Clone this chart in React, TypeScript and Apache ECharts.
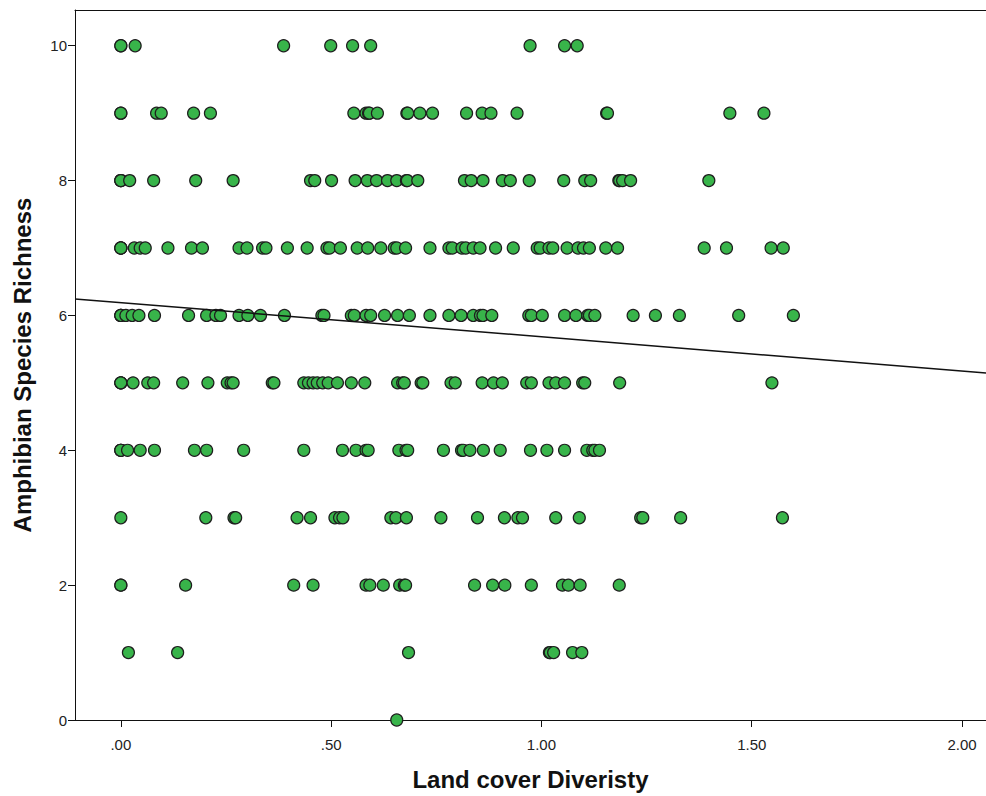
import React, { useEffect, useRef } from "react";
import * as echarts from "echarts";

// Land cover diversity values grouped by amphibian species richness
const richness10 = [0, 0, 0.034, 0.387, 0.499, 0.551, 0.594, 0.973, 1.055, 1.085];
const richness9 = [0, 0, 0.085, 0.096, 0.173, 0.213, 0.554, 0.583, 0.589, 0.591, 0.61, 0.68, 0.682, 0.711, 0.741, 0.822, 0.859, 0.88, 0.942, 1.155, 1.157, 1.448, 1.529];
const richness8 = [0, 0, 0, 0.021, 0.078, 0.178, 0.267, 0.451, 0.461, 0.501, 0.557, 0.586, 0.608, 0.634, 0.656, 0.679, 0.681, 0.706, 0.817, 0.833, 0.861, 0.907, 0.926, 0.971, 1.053, 1.103, 1.117, 1.184, 1.186, 1.193, 1.212, 1.398];
const richness7 = [0, 0, 0, 0.032, 0.046, 0.058, 0.112, 0.168, 0.194, 0.281, 0.3, 0.337, 0.345, 0.396, 0.443, 0.49, 0.496, 0.522, 0.562, 0.587, 0.618, 0.65, 0.656, 0.677, 0.735, 0.78, 0.788, 0.811, 0.82, 0.838, 0.854, 0.891, 0.933, 0.99, 0.997, 1.018, 1.027, 1.061, 1.087, 1.1, 1.114, 1.153, 1.181, 1.387, 1.44, 1.546, 1.575];
const richness6 = [0, 0, 0, 0.012, 0.027, 0.043, 0.08, 0.161, 0.204, 0.226, 0.237, 0.281, 0.302, 0.332, 0.389, 0.478, 0.483, 0.548, 0.555, 0.583, 0.594, 0.627, 0.658, 0.686, 0.735, 0.78, 0.809, 0.838, 0.855, 0.861, 0.882, 0.97, 0.976, 1.002, 1.055, 1.082, 1.11, 1.114, 1.127, 1.218, 1.271, 1.328, 1.469, 1.599];
const richness5 = [0, 0, 0, 0.029, 0.064, 0.078, 0.147, 0.207, 0.253, 0.262, 0.267, 0.36, 0.364, 0.435, 0.446, 0.457, 0.467, 0.48, 0.493, 0.515, 0.548, 0.58, 0.658, 0.67, 0.674, 0.714, 0.718, 0.785, 0.795, 0.859, 0.886, 0.907, 0.965, 0.976, 1.018, 1.034, 1.055, 1.098, 1.103, 1.186, 1.548];
const richness4 = [0, 0, 0, 0.016, 0.046, 0.08, 0.175, 0.204, 0.292, 0.435, 0.527, 0.559, 0.583, 0.588, 0.661, 0.678, 0.682, 0.767, 0.81, 0.814, 0.83, 0.862, 0.902, 0.974, 1.013, 1.055, 1.108, 1.122, 1.127, 1.138];
const richness3 = [0, 0.202, 0.269, 0.273, 0.419, 0.451, 0.509, 0.52, 0.528, 0.642, 0.654, 0.679, 0.761, 0.848, 0.912, 0.944, 0.955, 1.034, 1.09, 1.236, 1.241, 1.331, 1.573];
const richness2 = [0, 0, 0.154, 0.411, 0.457, 0.583, 0.592, 0.624, 0.663, 0.674, 0.677, 0.841, 0.884, 0.913, 0.976, 1.05, 1.064, 1.092, 1.185];
const richness1 = [0.018, 0.135, 0.684, 1.019, 1.021, 1.029, 1.074, 1.096];
const richness0 = [0.656];

const groups: [number, number[]][] = [
  [10, richness10], [9, richness9], [8, richness8], [7, richness7], [6, richness6],
  [5, richness5], [4, richness4], [3, richness3], [2, richness2], [1, richness1], [0, richness0],
];

const xTicks = [0, 0.5, 1, 1.5, 2];
const yTicks = [0, 2, 4, 6, 8, 10];
const xMin = -0.109;
const xMax = 2.057;
const yMax = 10.53;

// Linear fit line
const fitIntercept = 6.19;
const fitSlope = -0.507;

export default function App() {
  const ref = useRef<HTMLDivElement>(null);
  useEffect(() => {
    if (!ref.current) return;
    const chart = echarts.init(ref.current, null, { renderer: "svg" });
    const points: number[][] = [];
    groups.forEach(([y, xs]) => xs.forEach((x) => points.push([x, y])));
    const font = "'Liberation Sans', Arial, sans-serif";
    chart.setOption({
      animation: false,
      backgroundColor: "#ffffff",
      grid: { left: 75, top: 10, right: 0, bottom: 76, containLabel: false },
      xAxis: [
        {
          type: "value",
          min: xMin,
          max: xMax,
          name: "Land cover Diveristy",
          nameLocation: "middle",
          nameGap: 47,
          nameTextStyle: { fontFamily: font, fontWeight: "bold", fontSize: 24, color: "#111" },
          axisLine: { show: true, onZero: false, lineStyle: { color: "#111", width: 1 } },
          axisTick: { show: true, customValues: xTicks, length: 7, inside: false, lineStyle: { color: "#111" } },
          axisLabel: {
            customValues: xTicks,
            margin: 17,
            fontFamily: font,
            fontSize: 15,
            color: "#222",
            formatter: (v: number) => v.toFixed(2).replace(/^0/, ""),
          },
          splitLine: { show: false },
        },
        {
          type: "value",
          position: "top",
          min: xMin,
          max: xMax,
          axisLine: { show: true, onZero: false, lineStyle: { color: "#111", width: 1 } },
          axisTick: { show: false },
          axisLabel: { show: false },
          splitLine: { show: false },
        },
      ],
      yAxis: {
        type: "value",
        min: 0,
        max: yMax,
        name: "Amphibian Species Richness",
        nameLocation: "middle",
        nameGap: 41,
        nameTextStyle: { fontFamily: font, fontWeight: "bold", fontSize: 24, color: "#111" },
        axisLine: { show: true, onZero: false, lineStyle: { color: "#111", width: 1 } },
        axisTick: { show: true, customValues: yTicks, length: 7, lineStyle: { color: "#111" } },
        axisLabel: { customValues: yTicks, margin: 8, fontFamily: font, fontSize: 15, color: "#222" },
        splitLine: { show: false },
      },
      series: [
        {
          type: "line",
          data: [
            [xMin, fitIntercept + fitSlope * xMin],
            [xMax, fitIntercept + fitSlope * xMax],
          ],
          showSymbol: false,
          symbol: "none",
          lineStyle: { color: "#111", width: 1.5 },
          silent: true,
          z: 3,
        },
        {
          type: "scatter",
          data: points,
          symbol: "circle",
          symbolSize: 12,
          itemStyle: { color: "#38b44a", borderColor: "#1e1e1e", borderWidth: 1.2, opacity: 1 },
          z: 2,
        },
      ],
    });
    return () => chart.dispose();
  }, []);
  return (
    <div
      ref={ref}
      style={{ position: "absolute", left: 0, top: 0, width: 986, height: 796 }}
    />
  );
}
